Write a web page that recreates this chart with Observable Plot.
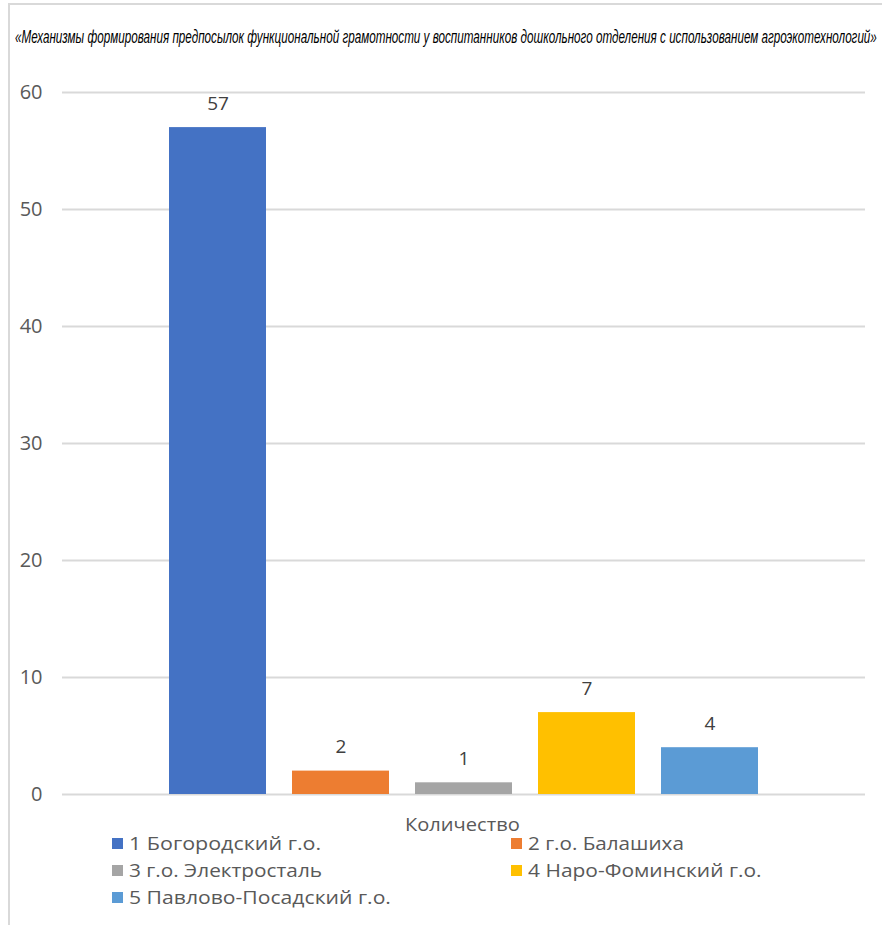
<!DOCTYPE html>
<html><head><meta charset="utf-8">
<script src="https://cdn.jsdelivr.net/npm/d3@7"></script>
<script src="https://cdn.jsdelivr.net/npm/@observablehq/plot@0.6"></script>
<style>
body{margin:0;background:#fff;width:882px;height:925px;overflow:hidden;position:relative;font-family:"Open Sans",Lato,sans-serif;}
#frame{position:absolute;left:8px;top:3px;width:900px;height:950px;border:2px solid #d9d9d9;box-sizing:border-box;}
#title{position:absolute;left:15px;top:27px;white-space:nowrap;font-family:"Liberation Sans Narrow","Liberation Sans",sans-serif;font-style:italic;font-size:18px;color:#000;transform-origin:0 0;}
#chart{position:absolute;left:0;top:60px;}
#cat{position:absolute;top:812px;left:405px;font-size:18px;color:#595959;white-space:nowrap;transform-origin:0 0;}
.item{position:absolute;font-size:18px;color:#595959;white-space:nowrap;line-height:22px;}
.sw{position:absolute;width:11px;height:11px;}
.txt{position:absolute;white-space:nowrap;transform-origin:0 0;}
</style></head>
<body>
<div id="frame"></div>
<div id="title">«Механизмы формирования предпосылок функциональной грамотности у воспитанников дошкольного отделения с использованием агроэкотехнологий»</div>
<div id="chart"></div>
<div id="cat"></div>
<div id="legend"></div>
<script>
const categories = ["1 Богородский г.о.", "2 г.о. Балашиха", "3 г.о. Электросталь", "4 Наро-Фоминский г.о.", "5 Павлово-Посадский г.о."];
const values = [57, 2, 1, 7, 4];
const colors = ["#4472C4", "#ED7D31", "#A5A5A5", "#FFC000", "#5B9BD5"];
const yTicks = [0, 10, 20, 30, 40, 50, 60];
const groupLabel = "Количество";

const data = categories.map((c, i) => ({name: c, value: values[i]}));

function fitWidth(el, target) {
  const w = el.scrollWidth;
  el.style.transform = `scaleX(${target / w})`;
}
fitWidth(document.getElementById("title"), 862);

const plot = Plot.plot({
  width: 882,
  height: 760,
  marginLeft: 62,
  marginRight: 17,
  marginTop: 32,
  marginBottom: 26,
  style: {fontFamily: "'Open Sans', Lato, sans-serif", background: "transparent"},
  x: {domain: categories, range: [155, 771], paddingInner: 0.213, paddingOuter: 0.107, axis: null},
  y: {domain: [0, 60], ticks: yTicks, label: null},
  color: {domain: categories, range: colors},
  marks: [
    Plot.ruleY(yTicks, {stroke: "#d9d9d9", strokeWidth: 2}),
    Plot.barY(data, {x: "name", y: "value", fill: "name"}),
    Plot.text(data, {x: "name", y: "value", text: d => String(d.value), dy: -24, fill: "#404040", fontSize: 19}),
    Plot.axisY({ticks: yTicks, tickSize: 0, tickPadding: 20, fontSize: 20, color: "#595959", label: null})
  ]
});
document.getElementById("chart").appendChild(plot);
const cat = document.getElementById("cat");
cat.textContent = groupLabel;
fitWidth(cat, 115);

const pos = [[112, 832], [511, 832], [112, 859], [511, 859], [112, 886]];
const widths = [192, 156, 193, 234, 262];
const leg = document.getElementById("legend");
categories.forEach((c, i) => {
  const d = document.createElement("div");
  d.className = "item";
  d.style.left = pos[i][0] + "px";
  d.style.top = pos[i][1] + "px";
  const sw = document.createElement("span");
  sw.className = "sw";
  sw.style.background = colors[i];
  sw.style.left = "0px";
  sw.style.top = "6px";
  const tx = document.createElement("span");
  tx.className = "txt";
  tx.style.left = "17px";
  tx.style.top = "0px";
  tx.textContent = c;
  d.appendChild(sw);
  d.appendChild(tx);
  leg.appendChild(d);
  fitWidth(tx, widths[i]);
});
</script>
</body></html>
